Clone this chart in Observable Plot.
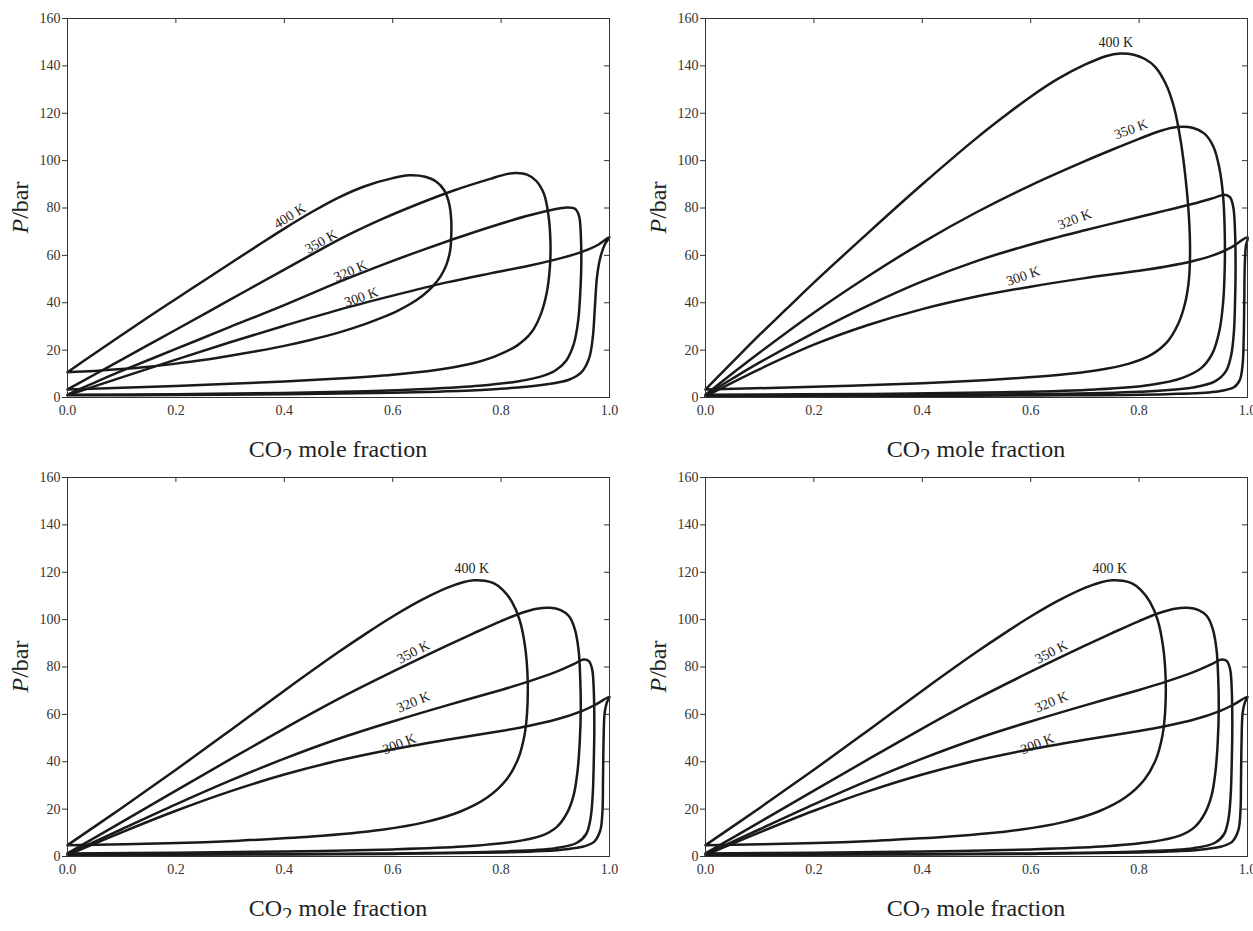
<!DOCTYPE html>
<html>
<head>
<meta charset="utf-8">
<script src="https://cdn.jsdelivr.net/npm/d3@7"></script>
<script src="https://cdn.jsdelivr.net/npm/@observablehq/plot@0.6"></script>
<style>
  html, body { margin: 0; padding: 0; background: #fff; overflow: hidden; }
  #grid { display: grid; grid-template-columns: 638px 638px; grid-template-rows: 459px 459px; width: 1276px; }
  #grid svg { display: block; }
</style>
</head>
<body>
<div id="grid"></div>
<script>
// ---- ticks ----
const xTicks = [0, 0.2, 0.4, 0.6, 0.8, 1.0];
const yTicks = [0, 20, 40, 60, 80, 100, 120, 140, 160];
const xInner = [0.2, 0.4, 0.6, 0.8];
const yInner = [20, 40, 60, 80, 100, 120, 140];
const temps = ["400 K", "350 K", "320 K", "300 K"];

// ---- panel A (top left): [CO2 mole fraction, P/bar], bubble then dew ----
const a400 = [[0,10.7],[0.05,18.6],[0.1,26.4],[0.15,34.1],[0.2,41.6],[0.25,49.1],[0.3,56.6],[0.35,64],[0.4,71.3],[0.45,78.2],[0.5,84.4],[0.55,89.3],[0.6,92.6],[0.63,93.8],[0.66,93.2],[0.68,91.2],[0.695,87.5],[0.704,82],[0.708,75],[0.708,68],[0.706,62],[0.699,56],[0.688,51],[0.673,46.7],[0.655,43],[0.633,39.6],[0.608,36.5],[0.58,33.7],[0.55,31.1],[0.5,27.4],[0.45,24.4],[0.4,21.8],[0.35,19.6],[0.3,17.6],[0.25,15.8],[0.2,14.3],[0.15,13],[0.1,12],[0.05,11.2],[0,10.7]];
const a350 = [[0,3.4],[0.05,9.7],[0.1,16],[0.15,22.3],[0.2,28.6],[0.3,41.3],[0.4,54],[0.45,60.3],[0.516,68.4],[0.582,75.5],[0.648,81.8],[0.714,87.5],[0.78,92.3],[0.81,94.3],[0.828,94.8],[0.848,94.1],[0.865,91.4],[0.879,86],[0.887,77.5],[0.891,66],[0.89,55],[0.884,44],[0.873,35],[0.856,27.5],[0.83,22],[0.79,17.5],[0.74,14],[0.68,11.6],[0.6,9.6],[0.5,8],[0.4,6.8],[0.3,5.8],[0.2,4.9],[0.1,4.1],[0,3.4]];
const a320 = [[0,1.2],[0.05,6.3],[0.1,11.2],[0.2,20.5],[0.3,29.8],[0.4,39],[0.5,48.7],[0.582,56.1],[0.648,61.7],[0.714,67],[0.78,72],[0.847,76.6],[0.895,79.3],[0.922,80.2],[0.937,79.6],[0.944,76.5],[0.947,69],[0.948,57],[0.946,44],[0.942,32],[0.934,22.5],[0.92,15.5],[0.9,11.4],[0.873,8.8],[0.83,6.8],[0.76,5],[0.66,3.6],[0.55,2.6],[0.4,1.9],[0.2,1.4],[0,1.2]];
const a300 = [[0,0.9],[0.1,8.5],[0.2,16],[0.3,23.3],[0.4,30.3],[0.5,37],[0.6,43],[0.7,48.6],[0.78,52.4],[0.847,55.4],[0.9,58.2],[0.935,60.4],[0.96,62.4],[0.98,64.6],[1.0,67.7],[0.991,64.5],[0.983,59],[0.977,51],[0.973,38],[0.969,25],[0.962,16.3],[0.948,10.6],[0.925,7.5],[0.891,5.8],[0.847,4.5],[0.78,3.4],[0.7,2.6],[0.6,2],[0.4,1.4],[0.2,1.05],[0,0.9]];

// ---- panel B (top right) ----
const b400 = [[0,3.4],[0.05,15],[0.1,26.5],[0.15,37.5],[0.2,48.5],[0.3,69.5],[0.4,90],[0.5,109.5],[0.55,118.5],[0.6,127],[0.65,134.5],[0.7,140.5],[0.74,144.2],[0.765,145.2],[0.79,144.7],[0.81,143],[0.83,139.5],[0.85,132],[0.865,122],[0.877,108],[0.886,92],[0.892,76],[0.894,62],[0.892,50],[0.885,40],[0.872,31],[0.852,23.5],[0.822,18],[0.78,14.2],[0.72,11.4],[0.65,9.5],[0.55,7.8],[0.4,6],[0.2,4.5],[0,3.4]];
const b350 = [[0,1.2],[0.05,10.2],[0.1,19],[0.2,35.8],[0.3,51.2],[0.4,65.4],[0.5,78.2],[0.6,89.6],[0.7,99.8],[0.75,104.6],[0.8,109.2],[0.84,112.6],[0.87,114.2],[0.9,113.8],[0.92,111.5],[0.937,106],[0.948,97],[0.955,85],[0.958,70],[0.958,55],[0.955,40],[0.948,28],[0.935,18.5],[0.915,12.5],[0.88,8.3],[0.82,5.3],[0.72,3.4],[0.55,2.2],[0.3,1.5],[0,1.2]];
const b320 = [[0,0.9],[0.05,8],[0.1,14.8],[0.2,27.3],[0.3,38.8],[0.4,49],[0.5,57.6],[0.6,64.6],[0.7,70.6],[0.8,76.2],[0.85,79],[0.9,81.8],[0.94,84.4],[0.958,85.6],[0.968,84.5],[0.974,80],[0.977,70],[0.978,55],[0.977,40],[0.975,28],[0.97,18],[0.96,11],[0.94,6.8],[0.9,4.2],[0.8,2.4],[0.6,1.4],[0.3,1],[0,0.9]];
const b300 = [[0,0.5],[0.1,12],[0.2,22.3],[0.3,30.6],[0.4,37.3],[0.5,42.6],[0.6,46.8],[0.7,50.4],[0.8,53.5],[0.85,55.3],[0.9,57.6],[0.94,60.3],[0.97,63.4],[1.0,67.6],[0.997,64],[0.995,56],[0.994,40],[0.993,25],[0.991,14],[0.986,7.5],[0.975,4.3],[0.94,2.4],[0.85,1.4],[0.6,0.85],[0.3,0.6],[0,0.5]];

// ---- panels C and D (bottom left, bottom right) ----
const c400 = [[0,4.8],[0.1,20.5],[0.2,36.6],[0.3,53.2],[0.4,70],[0.5,86.3],[0.55,94],[0.6,101.3],[0.65,107.9],[0.7,113.4],[0.73,115.8],[0.75,116.6],[0.77,116.4],[0.787,115.3],[0.803,112.6],[0.82,107.5],[0.834,100],[0.844,89],[0.849,75],[0.848,61],[0.843,51],[0.831,41],[0.81,32.5],[0.775,25],[0.725,19],[0.66,14.5],[0.58,11.3],[0.45,8.4],[0.317,6.7],[0.185,5.6],[0,4.8]];
const c350 = [[0,1.3],[0.1,14.5],[0.2,27.8],[0.3,41],[0.4,54],[0.5,66.5],[0.6,78],[0.7,89],[0.75,94.3],[0.8,99.4],[0.84,103],[0.866,104.6],[0.89,105],[0.91,104],[0.925,101.5],[0.936,96],[0.943,87],[0.946,75],[0.947,62],[0.945,48],[0.941,36],[0.934,26],[0.922,18.5],[0.903,12.5],[0.875,8.8],[0.82,6.1],[0.73,4.2],[0.6,3],[0.4,2.1],[0.2,1.6],[0,1.3]];
const c320 = [[0,0.9],[0.1,11.5],[0.2,22],[0.3,32],[0.4,41.3],[0.5,49.7],[0.6,57],[0.7,63.8],[0.8,70.3],[0.85,73.8],[0.9,77.8],[0.935,81.3],[0.952,83.2],[0.962,82.5],[0.968,79],[0.971,70],[0.972,55],[0.971,40],[0.969,26],[0.965,16],[0.957,9.5],[0.94,5.8],[0.9,3.5],[0.8,2.1],[0.6,1.3],[0.3,1],[0,0.9]];
const c300 = [[0,0.6],[0.1,10.2],[0.2,19.3],[0.3,27.5],[0.4,34.6],[0.5,40.5],[0.6,45.3],[0.7,49.3],[0.8,53],[0.85,55.1],[0.9,57.7],[0.95,61.5],[0.975,64.2],[1.0,67.4],[0.995,65],[0.991,60.5],[0.989,48],[0.988,32],[0.987,19],[0.983,11],[0.972,6.3],[0.952,4.2],[0.925,3.2],[0.877,2.3],[0.8,1.7],[0.6,1.1],[0.3,0.8],[0,0.6]];

// ---- curve labels: anchor in data units (x, P) and text angle ----
const aLabelX = [0.41, 0.468, 0.522, 0.542], aLabelP = [76.6, 65.8, 53.4, 42.4], aLabelA = [-32, -29, -23, -19];
const bLabelX = [0.757, 0.785, 0.681, 0.586], bLabelP = [149.9, 113.2, 75.2, 51.2], bLabelA = [0, -20, -21, -19];
const cLabelX = [0.746, 0.638, 0.638, 0.612], cLabelP = [121.6, 86.3, 65.2, 47.5], cLabelA = [0, -27, -22, -21];

const FONT = "'Liberation Serif', 'DejaVu Serif', serif";
const W = 638, H = 459, mL = 67, mR = 29, mT = 18, mB = 62;
const innerW = W - mL - mR, innerH = H - mT - mB;

function panel(series, lx, lp, la) {
  const labels = temps.map((t, i) => ({t, x: lx[i], p: lp[i], a: la[i]}));
  const svg = Plot.plot({
    width: W, height: H,
    marginLeft: mL, marginRight: mR, marginTop: mT, marginBottom: mB,
    x: {domain: [0, 1]},
    y: {domain: [0, 160]},
    style: {fontFamily: FONT, fontSize: "14px", color: "#333", background: "white", overflow: "visible"},
    marks: [
      Plot.axisX({ticks: xTicks, tickFormat: d3.format(".1f"), tickSize: 0, tickPadding: 8, label: null, fontSize: 14, fontFamily: FONT}),
      Plot.axisY({ticks: yTicks, tickSize: 5, tickPadding: 2, label: null, fontSize: 14, fontFamily: FONT}),
      Plot.ruleX(xInner, {insetBottom: innerH - 5, stroke: "#333", strokeWidth: 1}),
      Plot.ruleY(yInner, {insetLeft: innerW - 5, stroke: "#333", strokeWidth: 1}),
      ...series.map(s => Plot.line(s, {x: d => d[0], y: d => d[1], curve: "catmull-rom", stroke: "#1a1a1a", strokeWidth: 2.5, strokeLinejoin: "round"})),
      Plot.text(labels, {x: "x", y: "p", text: "t", rotate: "a", fontSize: 14, fontFamily: FONT, fill: "#222"}),
      Plot.frame({stroke: "#333", strokeWidth: 1})
    ]
  });
  const s = d3.select(svg);
  const xt = s.append("text")
    .attr("x", mL + innerW / 2).attr("y", 457)
    .attr("text-anchor", "middle").attr("font-family", FONT).attr("font-size", 24).attr("fill", "#222");
  xt.append("tspan").text("CO");
  xt.append("tspan").attr("dy", 6).attr("font-size", 21).text("2");
  xt.append("tspan").attr("dy", -6).text(" mole fraction");
  const yt = s.append("text")
    .attr("transform", `translate(28,${mT + innerH / 2}) rotate(-90)`)
    .attr("text-anchor", "middle").attr("font-family", FONT).attr("font-size", 24).attr("fill", "#222");
  yt.append("tspan").attr("font-style", "italic").text("P");
  yt.append("tspan").text("/bar");
  return svg;
}

const grid = document.getElementById("grid");
grid.append(panel([a400, a350, a320, a300], aLabelX, aLabelP, aLabelA));
grid.append(panel([b400, b350, b320, b300], bLabelX, bLabelP, bLabelA));
grid.append(panel([c400, c350, c320, c300], cLabelX, cLabelP, cLabelA));
grid.append(panel([c400, c350, c320, c300], cLabelX, cLabelP, cLabelA));
</script>
</body>
</html>
